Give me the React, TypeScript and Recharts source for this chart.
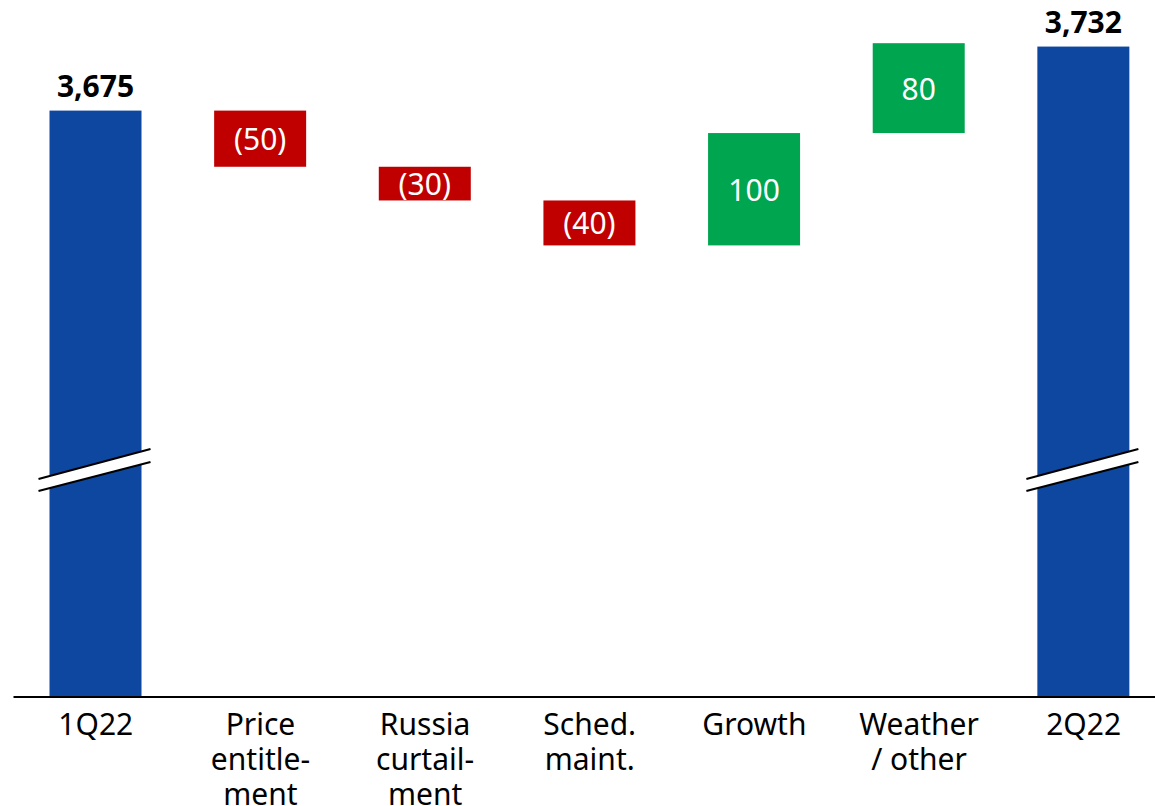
import React from "react";
import { BarChart, Bar, XAxis, YAxis } from "recharts";

const categories = [
  "1Q22",
  "Price\nentitle-\nment",
  "Russia\ncurtail-\nment",
  "Sched.\nmaint.",
  "Growth",
  "Weather\n/ other",
  "2Q22",
];
const startTotal = 3675;
const endTotal = 3732;
const changes = [-50, -30, -40, 100, 80];
const axisDomain: [number, number] = [3153, 3769];

const COLORS: Record<string, string> = {
  total: "#0E479F",
  down: "#C00000",
  up: "#00A550",
};
const FONT = "'Noto Sans', sans-serif";

type Row = {
  name: string;
  kind: "total" | "up" | "down";
  range: number | [number, number];
  value: number;
};

function buildRows(): Row[] {
  const rows: Row[] = [
    { name: categories[0], kind: "total", range: startTotal, value: startTotal },
  ];
  let level = startTotal;
  changes.forEach((d, i) => {
    const next = level + d;
    rows.push({
      name: categories[i + 1],
      kind: d < 0 ? "down" : "up",
      range: [Math.min(level, next), Math.max(level, next)],
      value: d,
    });
    level = next;
  });
  rows.push({
    name: categories[categories.length - 1],
    kind: "total",
    range: endTotal,
    value: endTotal,
  });
  return rows;
}

const rows = buildRows();

function formatValue(row: Row): string {
  if (row.kind === "total") return row.value.toLocaleString("en-US");
  if (row.value < 0) return `(${Math.abs(row.value)})`;
  return `${row.value}`;
}

const BarShape = (props: any) => {
  const { x, y, width, height, payload } = props;
  const row: Row = payload;
  const fill = COLORS[row.kind];
  const cx = x + width / 2;
  if (row.kind !== "total") {
    return (
      <g>
        <rect x={x} y={y} width={width} height={height} fill={fill} />
        <text
          x={cx}
          y={y + height / 2}
          textAnchor="middle"
          dominantBaseline="central"
          fill="#fff"
          fontFamily={FONT}
          fontSize={30}
        >
          {formatValue(row)}
        </text>
      </g>
    );
  }
  const bottom = y + height;
  const lx = x - 11;
  const rx = x + width + 9;
  const a = [lx, bottom - 218];
  const b = [rx, bottom - 248];
  const c = [rx, bottom - 235];
  const d = [lx, bottom - 206];
  return (
    <g>
      <rect x={x} y={y} width={width} height={height} fill={fill} />
      <polygon
        points={`${a[0]},${a[1]} ${b[0]},${b[1]} ${c[0]},${c[1]} ${d[0]},${d[1]}`}
        fill="#fff"
      />
      <line x1={a[0]} y1={a[1]} x2={b[0]} y2={b[1]} stroke="#000" strokeWidth={2} />
      <line x1={d[0]} y1={d[1]} x2={c[0]} y2={c[1]} stroke="#000" strokeWidth={2} />
      <text
        x={cx}
        y={y - 14}
        textAnchor="middle"
        fill="#000"
        fontFamily={FONT}
        fontWeight="bold"
        fontSize={30}
      >
        {formatValue(row)}
      </text>
    </g>
  );
};

const Tick = (props: any) => {
  const { x, y, payload } = props;
  const lines = String(payload.value).split("\n");
  return (
    <text x={x} y={y} textAnchor="middle" fontFamily={FONT} fontSize={30} fill="#000">
      {lines.map((l, i) => (
        <tspan key={i} x={x} dy={i === 0 ? 38 : 35}>
          {l}
        </tspan>
      ))}
    </text>
  );
};

export default function App() {
  return (
    <div
      style={{
        position: "absolute",
        left: 0,
        top: 0,
        width: 1155,
        height: 806,
        overflow: "hidden",
        background: "#fff",
      }}
    >
      <BarChart
        width={1166}
        height={806}
        data={rows}
        margin={{ top: 5, right: 0, left: 13.5, bottom: 0 }}
      >
        <XAxis
          dataKey="name"
          height={109}
          interval={0}
          tickLine={false}
          tickSize={0}
          tickMargin={0}
          axisLine={{ stroke: "#000", strokeWidth: 2 }}
          tick={<Tick />}
        />
        <YAxis hide domain={axisDomain} allowDataOverflow />
        <Bar dataKey="range" barSize={92} shape={<BarShape />} isAnimationActive={false} />
      </BarChart>
    </div>
  );
}
